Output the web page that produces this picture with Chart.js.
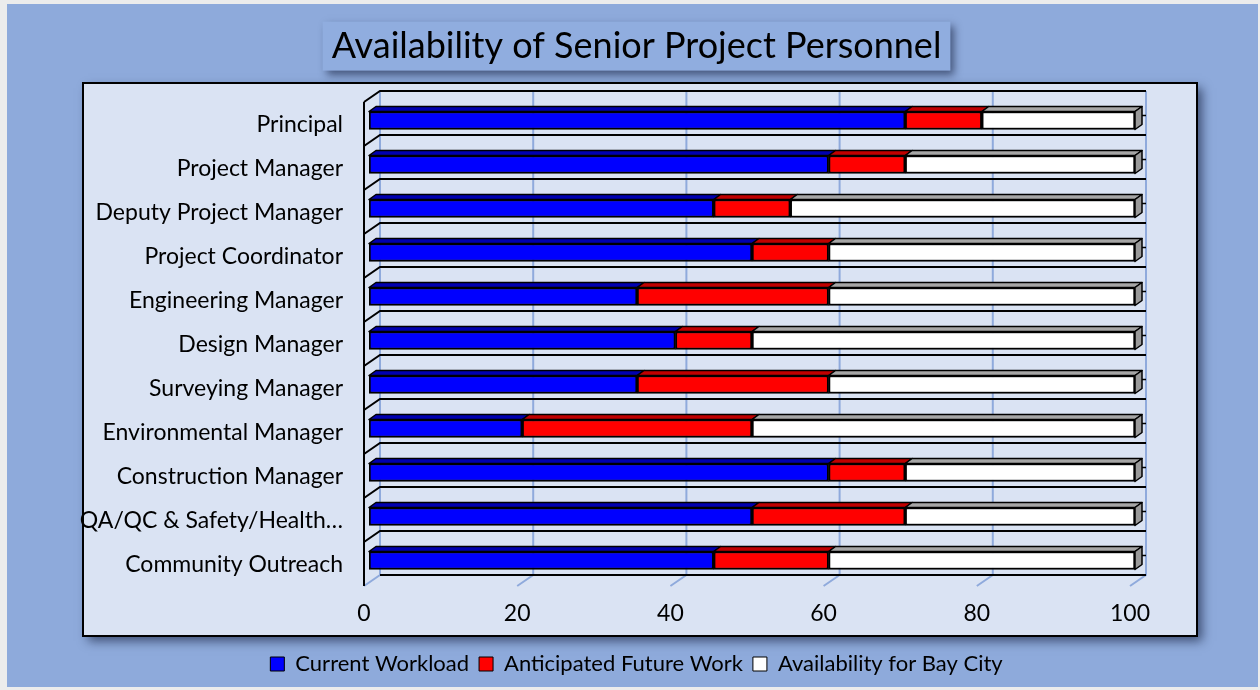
<!DOCTYPE html>
<html>
<head>
<meta charset="utf-8">
<script src="https://cdn.jsdelivr.net/npm/chart.js@4.4.1/dist/chart.umd.min.js"></script>
<style>
  html, body { margin: 0; padding: 0; background: #8eaadb; }
  #wrap { width: 1260px; height: 690px; }
</style>
</head>
<body>
<div id="wrap"><canvas id="chart" width="1260" height="690"></canvas></div>
<script>
// Roles and their time allocation (percent)
const categories = [
  'Principal',
  'Project Manager',
  'Deputy Project Manager',
  'Project Coordinator',
  'Engineering Manager',
  'Design Manager',
  'Surveying Manager',
  'Environmental Manager',
  'Construction Manager',
  'QA/QC & Safety/Health\u2026',
  'Community Outreach'
];
const currentWorkload      = [70, 60, 45, 50, 35, 40, 35, 20, 60, 50, 45];
const anticipatedFuture    = [10, 10, 10, 10, 25, 10, 25, 30, 10, 20, 15];
const availabilityBayCity  = [20, 30, 45, 40, 40, 50, 40, 50, 30, 30, 40];
const xTickValues = [0, 20, 40, 60, 80, 100];

const seriesNames = ['Current Workload', 'Anticipated Future Work', 'Availability for Bay City'];
const frontColors = ['#0000ff', '#ff0000', '#ffffff'];
const topColors   = ['#0000b0', '#c00000', '#a6a6a6'];
const capColor    = '#9a9a9a';

const FONT = 'Lato, "Open Sans", sans-serif';
const TITLE_TEXT = 'Availability of Senior Project Personnel';
const TITLE_SIZE = 36;
const TITLE_PAD_TOP = 24.5;

// depth offsets of the pseudo-3D planes, relative to the bars' front face
const BACK  = { dx: 11, dy: -7.5 };
const FRONT = { dx: -5, dy: 3.5 };
const BAR_DEPTH = { dx: 7, dy: -5 };

function path(ctx, pts) {
  ctx.beginPath();
  ctx.moveTo(pts[0][0], pts[0][1]);
  for (let i = 1; i < pts.length; i++) ctx.lineTo(pts[i][0], pts[i][1]);
  ctx.closePath();
}

const scene3d = {
  id: 'scene3d',
  beforeDraw(chart) {
    const { ctx, chartArea: ca, width, height } = chart;
    ctx.save();
    // page background with a pale rim
    ctx.fillStyle = '#ececec';
    ctx.fillRect(0, 0, width, height);
    ctx.fillStyle = '#8eaadb';
    ctx.fillRect(7, 4, width - 9, height - 7);

    // title box
    const tb = chart.titleBlock;
    ctx.font = `${TITLE_SIZE}px ${FONT}`;
    const tw = ctx.measureText(TITLE_TEXT).width;
    const cx = (tb.left + tb.right) / 2;
    const cy = tb.top + TITLE_PAD_TOP + TITLE_SIZE * 1.2 / 2;
    ctx.shadowColor = 'rgba(20,30,60,0.6)';
    ctx.shadowBlur = 8;
    ctx.shadowOffsetX = 4;
    ctx.shadowOffsetY = 4;
    ctx.fillStyle = '#90addf';
    ctx.fillRect(cx - tw / 2 - 9, cy - 24.5, tw + 18, 49);

    // plot box
    const px = ca.left - 286, py = ca.top - 15.5;
    const pw = (ca.right + 62) - px, ph = (ca.bottom + 53.5) - py;
    ctx.shadowColor = 'rgba(20,30,60,0.65)';
    ctx.shadowBlur = 10;
    ctx.shadowOffsetX = 5;
    ctx.shadowOffsetY = 5;
    ctx.fillStyle = '#dae3f3';
    ctx.fillRect(px, py, pw, ph);
    ctx.shadowColor = 'transparent';
    ctx.lineWidth = 2;
    ctx.strokeStyle = '#000';
    ctx.strokeRect(px, py, pw, ph);
    ctx.restore();
  },
  beforeDatasetsDraw(chart) {
    const { ctx, chartArea: ca, scales } = chart;
    const xs = scales.x;
    const n = categories.length;
    const band = (ca.bottom - ca.top) / n;
    ctx.save();
    // back-wall value gridlines with floor diagonals
    ctx.strokeStyle = '#8faadc';
    ctx.lineWidth = 2;
    xTickValues.forEach(v => {
      const x = xs.getPixelForValue(v);
      ctx.beginPath();
      ctx.moveTo(x + BACK.dx, ca.top + BACK.dy);
      ctx.lineTo(x + BACK.dx, ca.bottom + BACK.dy);
      ctx.lineTo(x + FRONT.dx, ca.bottom + FRONT.dy);
      ctx.stroke();
    });
    // category separators on the back wall and the side wall
    const x0 = xs.getPixelForValue(0), x1 = xs.getPixelForValue(100);
    ctx.strokeStyle = '#000';
    ctx.lineWidth = 2;
    for (let i = 0; i < n; i++) {
      const y = ca.top + band * i;
      ctx.beginPath();
      ctx.moveTo(x1 + BACK.dx, y + BACK.dy);
      ctx.lineTo(x0 + BACK.dx, y + BACK.dy);
      ctx.lineTo(x0 + FRONT.dx, y + FRONT.dy);
      ctx.stroke();
    }
    const yb = ca.bottom;
    ctx.beginPath();
    ctx.moveTo(x1 + BACK.dx, yb + BACK.dy);
    ctx.lineTo(x0 + BACK.dx, yb + BACK.dy);
    ctx.stroke();
    // side-wall front edge
    ctx.beginPath();
    ctx.moveTo(x0 + FRONT.dx, ca.top + FRONT.dy);
    ctx.lineTo(x0 + FRONT.dx, ca.bottom + FRONT.dy);
    ctx.stroke();
    ctx.restore();
  },
  afterDatasetsDraw(chart) {
    const { ctx } = chart;
    const last = chart.data.datasets.length - 1;
    ctx.save();
    ctx.lineWidth = 1.5;
    ctx.strokeStyle = '#000';
    ctx.lineJoin = 'round';
    chart.data.datasets.forEach((ds, d) => {
      const meta = chart.getDatasetMeta(d);
      meta.data.forEach(el => {
        const l = Math.min(el.base, el.x), r = Math.max(el.base, el.x);
        const t = el.y - el.height / 2, b = el.y + el.height / 2;
        const dx = BAR_DEPTH.dx, dy = BAR_DEPTH.dy;
        path(ctx, [[l, t], [r, t], [r + dx, t + dy], [l + dx, t + dy]]);
        ctx.fillStyle = topColors[d];
        ctx.fill();
        ctx.stroke();
        if (d === last) {
          path(ctx, [[r, t], [r + dx, t + dy], [r + dx, b + dy], [r, b]]);
          ctx.fillStyle = capColor;
          ctx.fill();
          ctx.stroke();
          // short tick from the end cap to the back wall
          ctx.beginPath();
          ctx.moveTo(r + dx, el.y + dy);
          ctx.lineTo(r + BACK.dx, el.y + dy);
          ctx.stroke();
        }
      });
    });
    ctx.restore();
  }
};

const seriesData = [currentWorkload, anticipatedFuture, availabilityBayCity];

new Chart(document.getElementById('chart'), {
  type: 'bar',
  data: {
    labels: categories,
    datasets: seriesData.map((vals, i) => ({
      label: seriesNames[i],
      data: vals,
      backgroundColor: frontColors[i],
      borderColor: '#000',
      borderWidth: 2,
      borderSkipped: false,
      barThickness: 18
    }))
  },
  options: {
    indexAxis: 'y',
    responsive: false,
    animation: false,
    devicePixelRatio: 1,
    layout: { padding: { left: 13, right: 0, top: 0, bottom: 5 } },
    scales: {
      x: {
        stacked: true,
        min: 0,
        max: 100,
        grid: { display: false, drawTicks: false },
        border: { display: false },
        afterFit(scale) { scale.height = 60.5; },
        afterBuildTicks(scale) { scale.ticks = xTickValues.map(v => ({ value: v })); },
        ticks: {
          padding: 17,
          labelOffset: -5,
          color: '#000',
          font: { family: FONT, size: 23 }
        }
      },
      y: {
        stacked: true,
        grid: { display: false, drawTicks: false },
        border: { display: false },
        afterFit(scale) { scale.width = 356; },
        ticks: {
          padding: 26,
          labelOffset: 4,
          autoSkip: false,
          color: '#000',
          font: { family: FONT, size: 23 }
        }
      },
      // empty right-hand gutter that reserves the space beside the plot
      gutter: {
        type: 'linear',
        position: 'right',
        grid: { display: false, drawTicks: false },
        border: { display: false },
        ticks: { display: false },
        afterFit(scale) { scale.width = 125; }
      }
    },
    plugins: {
      title: {
        display: true,
        text: TITLE_TEXT,
        color: '#000',
        font: { family: FONT, size: TITLE_SIZE, weight: 'normal', lineHeight: 1.2 },
        padding: { top: TITLE_PAD_TOP, bottom: 98.5 - TITLE_PAD_TOP - TITLE_SIZE * 1.2 }
      },
      legend: {
        position: 'bottom',
        labels: {
          color: '#000',
          boxWidth: 14,
          boxHeight: 14,
          padding: 10,
          font: { family: FONT, size: 22 },
          generateLabels(chart) {
            return Chart.defaults.plugins.legend.labels.generateLabels(chart)
              .map(l => Object.assign(l, { lineWidth: 1 }));
          }
        }
      },
      tooltip: { enabled: false }
    }
  },
  plugins: [scene3d]
});
</script>
</body>
</html>
